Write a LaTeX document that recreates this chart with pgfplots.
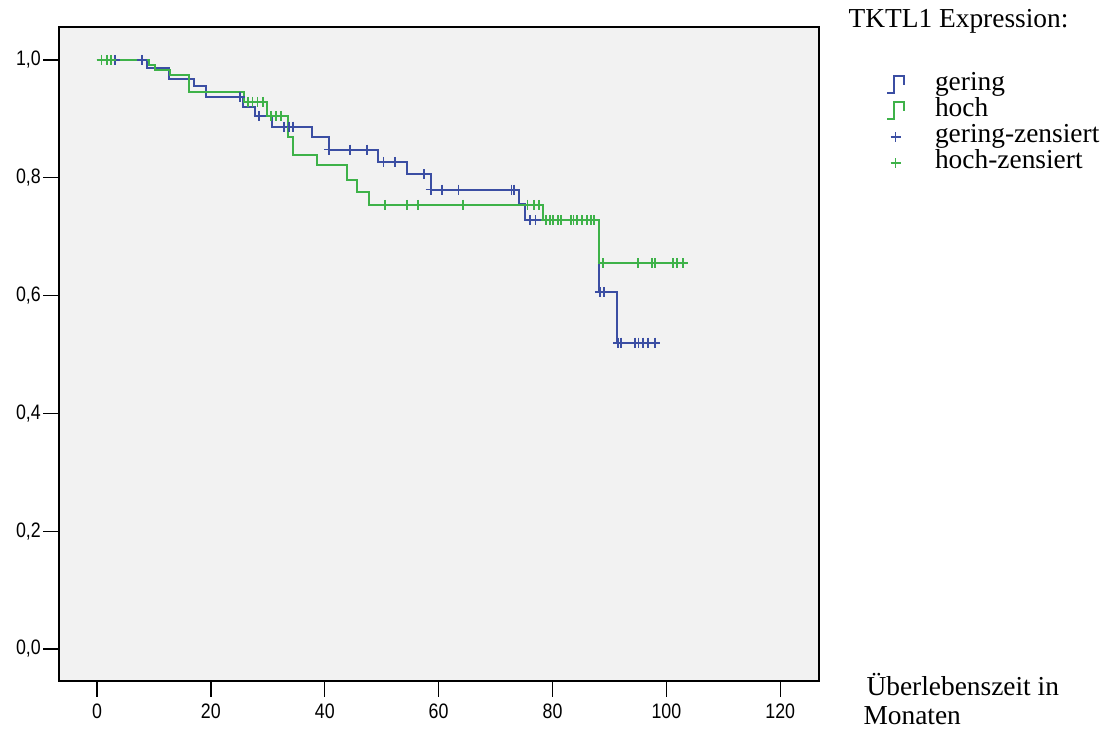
\documentclass[border=0pt]{standalone}
\usepackage{pgfplots}
\pgfplotsset{compat=1.18}
\usepackage{fontspec}
\setmainfont{Liberation Serif}
\newfontfamily\tickfont[FakeStretch=0.85]{Liberation Sans}
\definecolor{kmblue}{RGB}{59,78,163}
\definecolor{kmgreen}{RGB}{62,178,73}
\pgfplotsset{steplegend/.style={legend image code/.code={\draw[##1] (0bp,-8bp) -- (7bp,-8bp) -- (7bp,9bp) -- (17bp,9bp) -- (17bp,0bp);}}}
\begin{document}
\begin{tikzpicture}[x=1bp,y=1bp]
\path[use as bounding box] (0,0) rectangle (1108,731);
\begin{axis}[
  at={(59bp,50bp)}, anchor=south west,
  width=760bp, height=654bp, scale only axis,
  xmin=-6.67, xmax=126.8, ymin=-0.0543, ymax=1.056,
  axis background/.style={fill=gray!10},
  axis line style={black, line width=1.4bp},
  xtick={0,20,40,60,80,100,120},
  ytick={0,0.2,0.4,0.6,0.8,1},
  yticklabels={{0,0},{0,2},{0,4},{0,6},{0,8},{1,0}},
  tick pos=left, tick align=outside,
  major tick length=16bp,
  tick style={black, line width=1.4bp},
  tick label style={font=\tickfont\fontsize{21}{21}\selectfont},
  yticklabel style={inner sep=2bp},
  xticklabel style={inner sep=7bp},
  /pgf/number format/assume math mode=true,
  legend style={at={(axis description cs:1.084,0.934)}, anchor=north west,
    draw=none, fill=none, font=\fontsize{27.5}{27.5}\selectfont,
    row sep=0pt, column sep=30bp,
    nodes={inner sep=0pt, text height=18bp, text depth=8bp}},
  legend cell align=left,
]
\addplot[const plot, kmblue, line width=2bp, steplegend]
coordinates {(0,1) (8.8,0.986) (12.6,0.967) (17.0,0.955) (19.1,0.937) (25.6,0.921)
 (27.8,0.905) (30.8,0.887) (37.8,0.869) (40.7,0.848) (49.4,0.827) (54.4,0.806)
 (58.6,0.780) (74.2,0.755) (75.2,0.728) (88.1,0.606) (91.4,0.520) (98.0,0.520)};
\addlegendentry{gering}
\addplot[const plot, kmgreen, line width=2bp, steplegend]
coordinates {(0,1) (9.1,0.991) (10.2,0.983) (12.9,0.975) (16.1,0.945) (25.8,0.929)
 (29.8,0.905) (33.6,0.870) (34.4,0.839) (38.6,0.822) (43.9,0.796) (45.6,0.776)
 (47.7,0.754) (78.3,0.728) (88.1,0.655) (102.9,0.655)};
\addlegendentry{hoch}
\addplot[only marks, kmblue, mark=+, mark size=5bp, mark options={line width=1.8bp}]
coordinates {(3.2,1) (7.9,1) (25.1,0.937) (28.4,0.905) (32.8,0.887) (33.7,0.887) (34.4,0.887)
 (40.8,0.848) (44.5,0.848) (47.4,0.848) (50.3,0.827) (52.4,0.827) (57.4,0.806)
 (58.6,0.780) (60.6,0.780) (63.5,0.780) (72.8,0.780) (73.3,0.780) (76.1,0.728) (77.0,0.728)
 (88.3,0.606) (89.0,0.606) (91.5,0.520) (92.0,0.520) (94.5,0.520) (95.1,0.520)
 (95.9,0.520) (96.8,0.520) (98.0,0.520)};
\addlegendentry{gering-zensiert}
\addplot[only marks, kmgreen, mark=+, mark size=5bp, mark options={line width=1.8bp}]
coordinates {(0.8,1) (1.7,1) (2.5,1) (26.5,0.929) (27.3,0.929) (28.2,0.929) (29.1,0.929)
 (30.5,0.905) (31.4,0.905) (32.3,0.905) (50.6,0.754) (54.4,0.754) (56.4,0.754) (64.3,0.754)
 (75.6,0.754) (76.7,0.754) (77.6,0.754) (78.9,0.728) (79.5,0.728) (80.1,0.728) (80.9,0.728)
 (81.5,0.728) (83.2,0.728) (83.7,0.728) (84.3,0.728) (85.2,0.728) (86.1,0.728) (86.7,0.728)
 (87.3,0.728) (88.8,0.655) (95.0,0.655) (97.4,0.655) (98.0,0.655) (101.1,0.655)
 (101.8,0.655) (102.9,0.655)};
\addlegendentry{hoch-zensiert}
\end{axis}
\node[anchor=base west, font=\fontsize{27.5}{27.5}\selectfont] at (845,703) {TKTL1 Expression:};
\node[anchor=base west, font=\fontsize{27.5}{27.5}\selectfont] at (863,35) {Überlebenszeit in};
\node[anchor=base west, font=\fontsize{27.5}{27.5}\selectfont] at (860,6) {Monaten};
\end{tikzpicture}
\end{document}
